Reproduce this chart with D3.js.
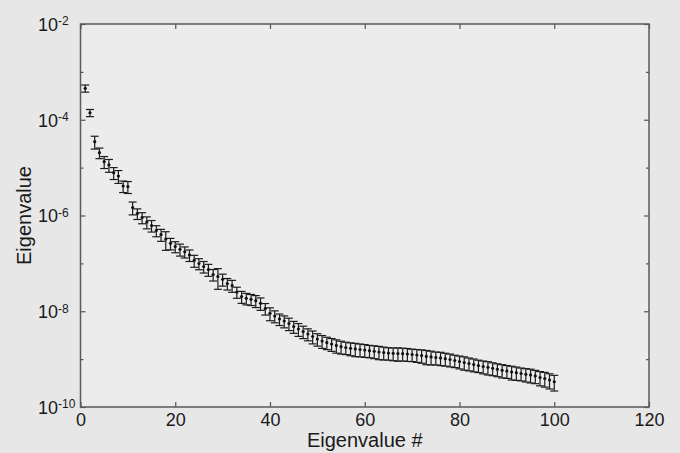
<!DOCTYPE html>
<html>
<head>
<meta charset="utf-8">
<script src="https://d3js.org/d3.v7.min.js"></script>
<style>
  body { margin: 0; background: #e7e7e7; }
  svg { display: block; font-family: "Liberation Sans", Arial, sans-serif; }
</style>
</head>
<body>
<div id="chart"></div>
<script>

// eigenvalue index 1..100
var index = d3.range(1, 101);

// mean eigenvalue
var eigen = [
  4.54e-4, 1.40e-4, 3.48e-5, 2.05e-5, 1.33e-5, 1.14e-5, 7.83e-6, 6.68e-6, 4.13e-6, 4.00e-6,
  1.47e-6, 1.10e-6, 9.08e-7, 7.31e-7, 6.18e-7, 4.86e-7, 4.01e-7, 3.23e-7, 2.62e-7, 2.25e-7,
  1.97e-7, 1.75e-7, 1.50e-7, 1.15e-7, 9.93e-8, 8.61e-8, 7.45e-8, 5.86e-8, 5.32e-8, 4.65e-8,
  3.80e-8, 3.45e-8, 2.52e-8, 2.03e-8, 1.86e-8, 1.78e-8, 1.66e-8, 1.47e-8, 1.14e-8, 9.06e-9,
  7.96e-9, 6.89e-9, 6.25e-9, 5.55e-9, 4.80e-9, 4.26e-9, 3.78e-9, 3.35e-9, 2.97e-9, 2.63e-9,
  2.39e-9, 2.22e-9, 2.07e-9, 1.93e-9, 1.82e-9, 1.75e-9, 1.68e-9, 1.63e-9, 1.59e-9, 1.55e-9,
  1.50e-9, 1.46e-9, 1.41e-9, 1.37e-9, 1.34e-9, 1.32e-9, 1.31e-9, 1.30e-9, 1.28e-9, 1.25e-9,
  1.22e-9, 1.19e-9, 1.14e-9, 1.11e-9, 1.08e-9, 1.06e-9, 1.02e-9, 9.82e-10, 9.36e-10, 8.92e-10,
  8.51e-10, 8.11e-10, 7.73e-10, 7.36e-10, 7.02e-10, 6.75e-10, 6.44e-10, 6.14e-10, 5.85e-10, 5.65e-10,
  5.38e-10, 5.21e-10, 5.01e-10, 4.82e-10, 4.67e-10, 4.45e-10, 4.13e-10, 3.94e-10, 3.66e-10, 3.37e-10
];

// relative error (fraction of the value) for each eigenvalue
var relErr = [
  0.17, 0.17, 0.30, 0.25, 0.28, 0.30, 0.28, 0.30, 0.27, 0.28,
  0.30, 0.25, 0.26, 0.28, 0.27, 0.26, 0.28, 0.42, 0.27, 0.26,
  0.28, 0.26, 0.27, 0.28, 0.26, 0.27, 0.28, 0.27, 0.46, 0.28,
  0.27, 0.28, 0.26, 0.28, 0.27, 0.26, 0.28, 0.29, 0.27, 0.30,
  0.28, 0.27, 0.28, 0.29, 0.28, 0.30, 0.29, 0.28, 0.30, 0.29,
  0.30, 0.29, 0.30, 0.31, 0.30, 0.29, 0.30, 0.31, 0.30, 0.30,
  0.29, 0.30, 0.31, 0.30, 0.29, 0.30, 0.31, 0.30, 0.30, 0.29,
  0.30, 0.31, 0.33, 0.32, 0.30, 0.31, 0.30, 0.30, 0.29, 0.30,
  0.31, 0.30, 0.30, 0.29, 0.30, 0.31, 0.30, 0.30, 0.31, 0.30,
  0.32, 0.31, 0.30, 0.31, 0.32, 0.31, 0.33, 0.34, 0.35, 0.36
];

var xTicks = [0, 20, 40, 60, 80, 100, 120];
var yMajorExp = [-10, -8, -6, -4, -2];
var yMinorExp = [-9, -7, -5, -3];

// set the dimensions and margins of the graph
var margin = {top: 24, right: 31, bottom: 46, left: 80.5},
    width = 680 - margin.left - margin.right,
    height = 453 - margin.top - margin.bottom;

var svg = d3.select("#chart")
    .append("svg")
    .attr("width", 680)
    .attr("height", 453)
    .append("g")
    .attr("transform", "translate(" + margin.left + "," + margin.top + ")");

svg.append("rect")
    .attr("width", width)
    .attr("height", height)
    .attr("fill", "#ececec");

var x = d3.scaleLinear()
    .domain([0, 120])
    .range([0, width]);

var y = d3.scaleLog()
    .domain([1e-10, 1e-2])
    .range([height, 0]);

var pow = function(e) { return Math.pow(10, e); };

// X axis bottom (ticks pointing in)
var xAxis = svg.append("g")
    .attr("transform", "translate(0," + height + ")")
    .call(d3.axisBottom(x).tickValues(xTicks).tickSizeInner(-5).tickSizeOuter(0).tickPadding(6));
xAxis.selectAll("text")
    .style("font-size", "18px")
    .attr("fill", "#1a1a1a");

// X axis top, ticks only
svg.append("g")
    .call(d3.axisTop(x).tickValues(xTicks).tickSizeInner(-5).tickSizeOuter(0).tickFormat(""));

// Y axis left, major + minor
var yAxis = svg.append("g")
    .call(d3.axisLeft(y).tickValues(yMajorExp.map(pow)).tickSizeInner(-5).tickSizeOuter(0).tickFormat(""));
svg.append("g")
    .call(d3.axisLeft(y).tickValues(yMinorExp.map(pow)).tickSizeInner(-3).tickSizeOuter(0).tickFormat(""));

// Y axis right, ticks only
svg.append("g")
    .attr("transform", "translate(" + width + ",0)")
    .call(d3.axisRight(y).tickValues(yMajorExp.map(pow)).tickSizeInner(-5).tickSizeOuter(0).tickFormat(""));
svg.append("g")
    .attr("transform", "translate(" + width + ",0)")
    .call(d3.axisRight(y).tickValues(yMinorExp.map(pow)).tickSizeInner(-3).tickSizeOuter(0).tickFormat(""));

svg.selectAll(".domain").remove();
svg.selectAll(".tick line").attr("stroke", "#555").attr("stroke-width", 1.2);

// power-of-ten labels
var yLab = yAxis.selectAll(".tick")
    .append("text")
    .attr("x", -42.5)
    .attr("dy", "0.35em")
    .attr("text-anchor", "start")
    .attr("fill", "#1a1a1a")
    .style("font-size", "18px")
    .style("font-family", "'Liberation Sans', Arial, sans-serif");
yLab.append("tspan").text("10");
yLab.append("tspan")
    .attr("dy", "-0.45em")
    .style("font-size", "12px")
    .text(function(d) { return "-" + Math.round(-Math.log10(d)); });

// frame
svg.append("rect")
    .attr("width", width)
    .attr("height", height)
    .attr("fill", "none")
    .attr("stroke", "#5a5a5a")
    .attr("stroke-width", 1.5);

//Error bars
var pts = index.map(function(n, i) {
    return {n: n, v: eigen[i], lo: eigen[i] * (1 - relErr[i]), hi: eigen[i] * (1 + relErr[i])};
});
var cap = 4;

var bars = svg.append("g")
    .attr("stroke", "#1c1c1c")
    .attr("stroke-width", 1.2)
    .selectAll("g")
    .data(pts)
    .enter()
    .append("g");

bars.append("line")
    .attr("x1", function(d) { return x(d.n); })
    .attr("x2", function(d) { return x(d.n); })
    .attr("y1", function(d) { return y(d.lo); })
    .attr("y2", function(d) { return y(d.hi); });
bars.append("line")
    .attr("x1", function(d) { return x(d.n) - cap; })
    .attr("x2", function(d) { return x(d.n) + cap; })
    .attr("y1", function(d) { return y(d.lo); })
    .attr("y2", function(d) { return y(d.lo); });
bars.append("line")
    .attr("x1", function(d) { return x(d.n) - cap; })
    .attr("x2", function(d) { return x(d.n) + cap; })
    .attr("y1", function(d) { return y(d.hi); })
    .attr("y2", function(d) { return y(d.hi); });

// points
svg.append("g")
    .selectAll("circle")
    .data(pts)
    .enter()
    .append("circle")
    .attr("cx", function(d) { return x(d.n); })
    .attr("cy", function(d) { return y(d.v); })
    .attr("r", 1.6)
    .attr("fill", "#111");

// axis titles
svg.append("text")
    .attr("x", width / 2)
    .attr("y", height + 40)
    .attr("text-anchor", "middle")
    .attr("fill", "#1a1a1a")
    .style("font-size", "20px")
    .text("Eigenvalue #");

svg.append("text")
    .attr("transform", "translate(" + (31 - margin.left) + "," + (height / 2) + ") rotate(-90)")
    .attr("text-anchor", "middle")
    .attr("fill", "#1a1a1a")
    .style("font-size", "20px")
    .text("Eigenvalue");

</script>
</body>
</html>
